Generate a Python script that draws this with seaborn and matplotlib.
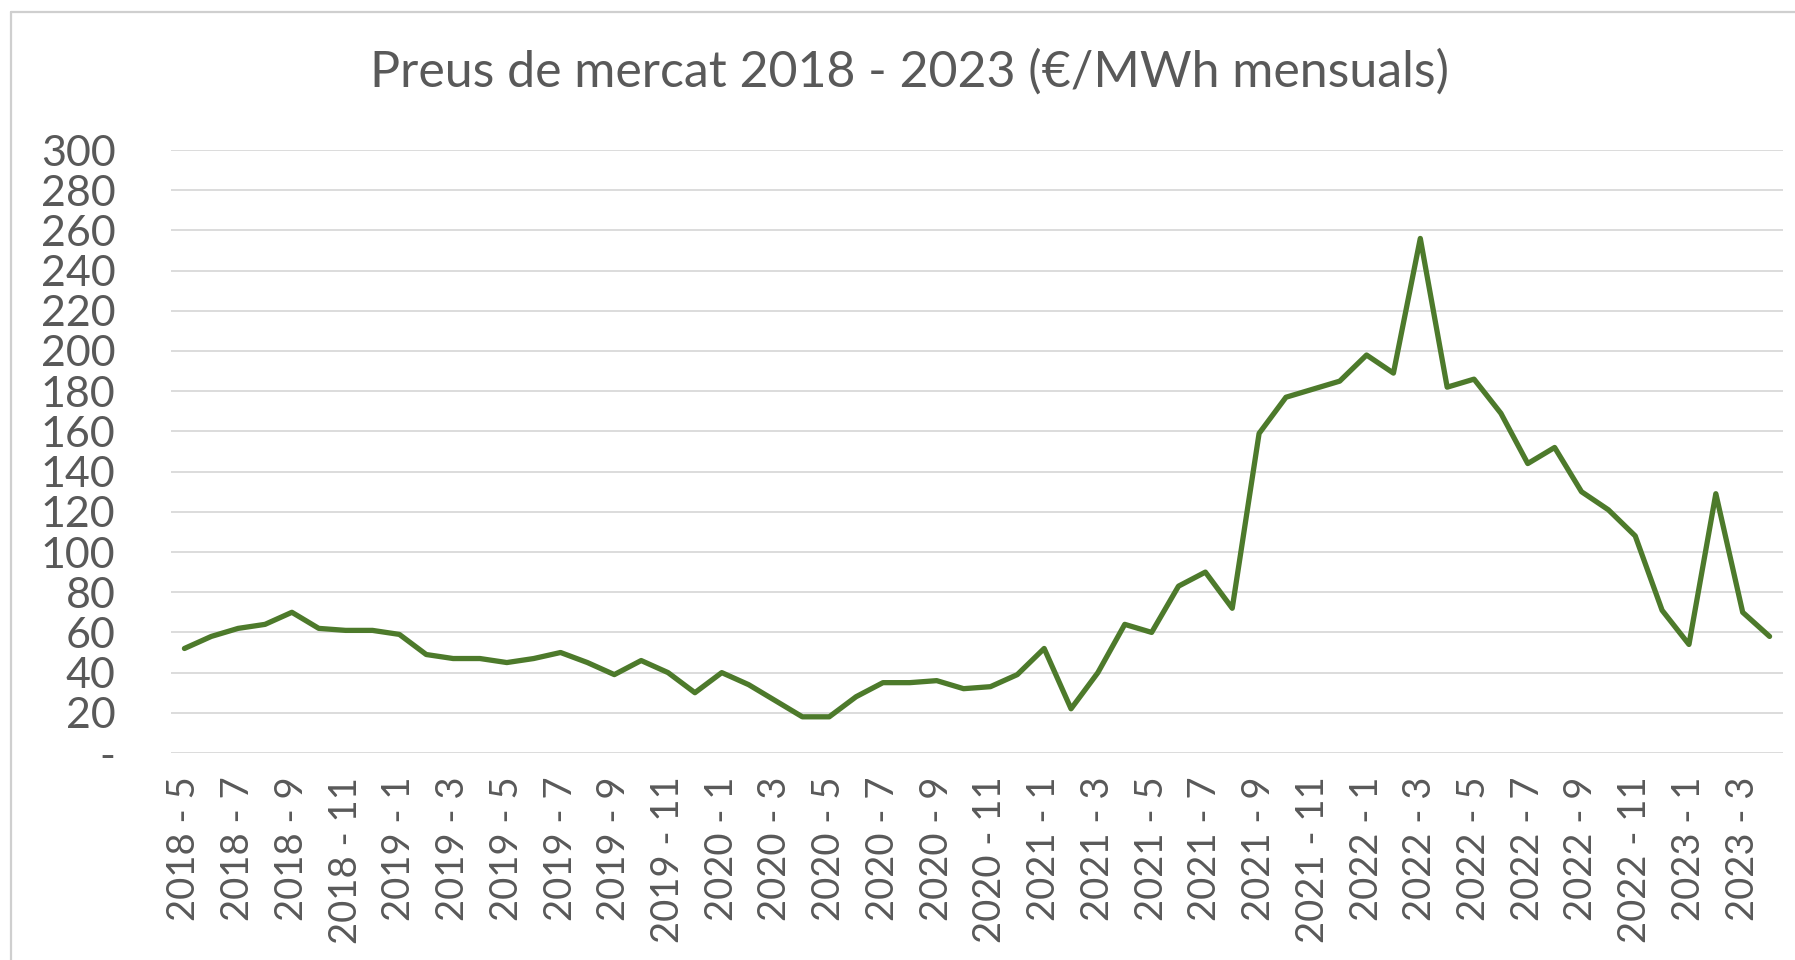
import seaborn as sns
import matplotlib.pyplot as plt
import pandas as pd
from matplotlib.lines import Line2D

# monthly market price, 2018-5 .. 2023-4 (EUR/MWh)
anys = [2018] * 8 + [2019] * 12 + [2020] * 12 + [2021] * 12 + [2022] * 12 + [2023] * 4
mesos = list(range(5, 13)) + list(range(1, 13)) * 4 + list(range(1, 5))
preus = [
    52, 58, 62, 64, 70, 62, 61, 61,
    59, 49, 47, 47, 45, 47, 50, 45, 39, 46, 40, 30,
    40, 34, 26, 18, 18, 28, 35, 35, 36, 32, 33, 39,
    52, 22, 40, 64, 60, 83, 90, 72, 159, 177, 181, 185,
    198, 189, 256, 182, 186, 169, 144, 152, 130, 121, 108, 71,
    54, 129, 70, 58,
]
y_ticks = list(range(0, 301, 20))
y_labels = ["-"] + [str(v) for v in y_ticks[1:]]

etiquetes = [f"{a} - {m}" for a, m in zip(anys, mesos)]
df = pd.DataFrame({"mes": etiquetes, "preu": preus})

sns.set_style("white")
plt.rcParams["font.family"] = ["Lato", "DejaVu Sans"]

text_color = "#595959"
fig = plt.figure(figsize=(17.95, 9.6), dpi=100)
ax = fig.add_axes([171 / 1795, 1 - 753 / 960, (1783 - 171) / 1795, (753 - 150) / 960])

sns.lineplot(data=df, x="mes", y="preu", sort=False, color="#4d7a2b",
             linewidth=3.8, ax=ax)

ax.set_xlim(-0.5, len(preus) - 0.5)
ax.set_ylim(0, 300)
ax.set_yticks(y_ticks)
ax.set_yticklabels(y_labels, fontsize=31, color=text_color)
ax.set_xticks(range(0, len(preus), 2))
ax.set_xticklabels(etiquetes[::2], rotation=90, fontsize=27.5, color=text_color)
ax.tick_params(axis="y", length=0, pad=40)
ax.tick_params(axis="x", length=0, pad=17)
ax.yaxis.grid(True, color="#d9d9d9", linewidth=1.3)
ax.set_axisbelow(True)
ax.set_xlabel("")
ax.set_ylabel("")
for s in ax.spines.values():
    s.set_visible(False)

fig.text(910 / 1795, 1 - 72 / 960, "Preus de mercat 2018 - 2023 (€/MWh mensuals)",
         ha="center", va="center", fontsize=36, color=text_color)

# chart area border (cut off at right and bottom)
bx, by = 10.7 / 1795, 1 - 11.7 / 960
fig.add_artist(Line2D([bx, bx], [0, by], transform=fig.transFigure, color="#cfcfcf", linewidth=1.6))
fig.add_artist(Line2D([bx, 1], [by, by], transform=fig.transFigure, color="#cfcfcf", linewidth=1.6))

fig.savefig("out.png", dpi=100)
